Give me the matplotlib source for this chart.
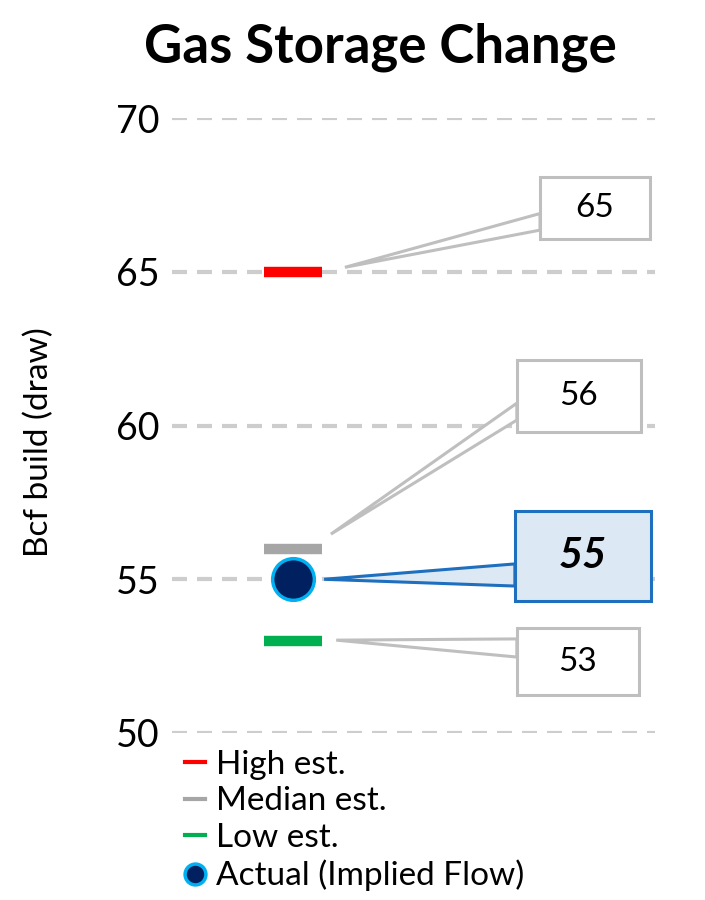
import matplotlib.pyplot as plt
from matplotlib.patches import Polygon, Rectangle
from matplotlib.lines import Line2D

plt.rcParams['font.family'] = ['Lato', 'DejaVu Sans']

# data
labels = ['High est.', 'Median est.', 'Low est.']
est_values = [65, 56, 53]
est_colors = ['#FF0000', '#A6A6A6', '#00B050']
actual_label = 'Actual (Implied Flow)'
actual_value = 55
yticks = [50, 55, 60, 65, 70]

fig = plt.figure(figsize=(7.05, 9), dpi=100)
ax = fig.add_axes([0.244, 0.1856, 0.685, 0.683])
ax.set_xlim(0, 1)
ax.set_ylim(50, 70)
xpos = 0.25

for y in yticks:
    ax.axhline(y, color='#CDCDCD', lw=3, dashes=(3.6, 2.4), zorder=0)

for v, c in zip(est_values, est_colors):
    ax.hlines(v, xpos - 0.06, xpos + 0.06, colors=c, lw=7.5, zorder=3)
ax.plot([xpos], [actual_value], 'o', ms=30, mfc='#002060', mec='#00B0F0', mew=2.5, zorder=4)

# callout box with a wedge pointing at the mark
def callout(val, x0, x1, y0, y1, tx, ty, b0, b1, ec, fc, lw, fs, weight='normal', style='normal'):
    ax.add_patch(Polygon([[tx, ty], [x0, b0], [x0, b1]], closed=True, fc=fc, ec=ec, lw=lw, zorder=5,
                         clip_on=False))
    ax.add_patch(Rectangle((x0, y0), x1 - x0, y1 - y0, fc=fc, ec=ec, lw=lw, zorder=6, clip_on=False))
    ax.text((x0 + x1) / 2, (y0 + y1) / 2, str(val), ha='center', va='center', fontsize=fs,
            fontweight=weight, fontstyle=style, zorder=7)

grey = '#BFBFBF'
callout(est_values[0], 0.762, 0.990, 66.07, 68.08, 0.358, 65.15, 66.36, 66.9, grey, 'white', 2.2, 24)
callout(est_values[1], 0.714, 0.971, 59.79, 62.13, 0.329, 56.47, 60.18, 60.73, grey, 'white', 2.2, 24)
callout(actual_value, 0.710, 0.992, 54.29, 57.22, 0.315, 55.0, 54.78, 55.5, '#1F6FBF', '#DDE8F5', 2.2, 30,
        'bold', 'italic')
callout(est_values[2], 0.714, 0.967, 51.24, 53.41, 0.340, 53.02, 52.47, 53.06, grey, 'white', 2.2, 24)

ax.set_yticks(yticks)
ax.tick_params(axis='y', length=0, labelsize=27, pad=9)
ax.set_xticks([])
for s in ax.spines.values():
    s.set_visible(False)
ax.set_ylabel('Bcf build (draw)', fontsize=24)
ax.yaxis.set_label_coords(-0.245, 0.473)

fig.text(0.54, 0.948, 'Gas Storage Change', ha='center', va='center', fontsize=38, fontweight='bold')

handles = [Line2D([], [], color=c, lw=3) for c in est_colors]
handles.append(Line2D([], [], ls='', marker='o', ms=15, mfc='#002060', mec='#00B0F0', mew=2.5))
leg = fig.legend(handles, labels + [actual_label], loc='upper left', bbox_to_anchor=(0.262, 0.167),
                 frameon=False, fontsize=24, handlelength=0.6, handletextpad=0.35, labelspacing=0.2,
                 borderaxespad=0, borderpad=0)

fig.savefig('out.png', dpi=100)
